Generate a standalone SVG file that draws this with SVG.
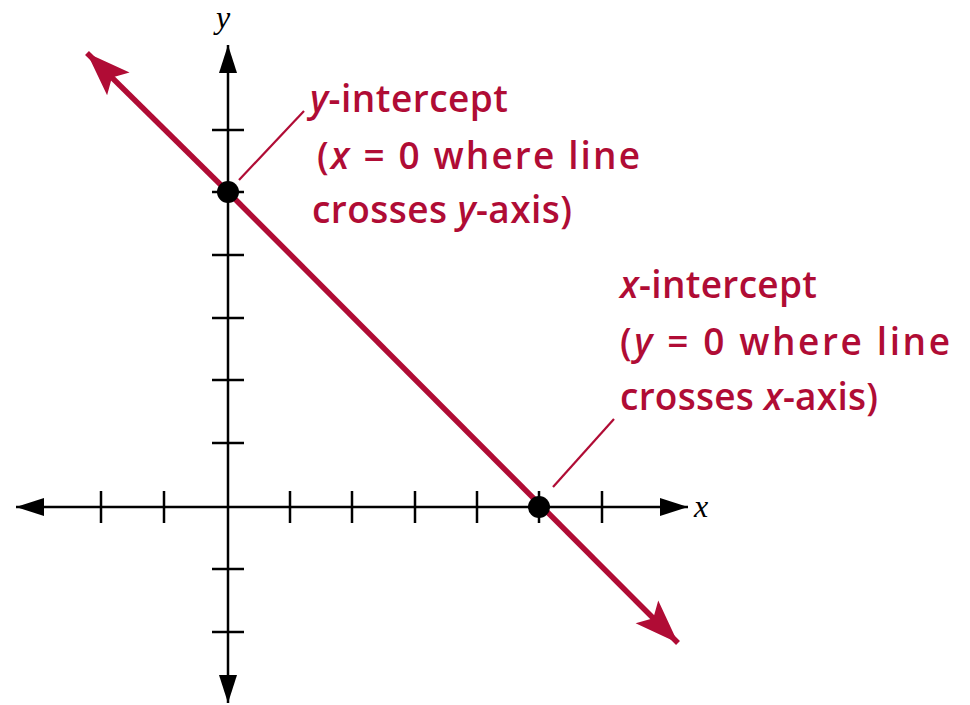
<svg xmlns="http://www.w3.org/2000/svg" width="970" height="705" viewBox="0 0 970 705">
<style>
.ax{stroke:#000;stroke-width:2.5;fill:none}
.tk{stroke:#000;stroke-width:2.5}
.ln{stroke:#B00C35;stroke-width:5.5;fill:none}
.ld{stroke:#B00C35;stroke-width:2.2}
.lbl{font-family:"Open Sans",sans-serif;font-size:37px;font-weight:600;fill:#B00C35}
.ax-l{font-family:"Liberation Serif",serif;font-style:italic;font-size:32px;fill:#000}
</style>
<defs>
<marker id="ah" markerUnits="userSpaceOnUse" markerWidth="30" markerHeight="20" refX="28" refY="10" orient="auto">
<path d="M0,1 L28,10 L0,19 Z" fill="#000"/>
</marker>
<marker id="rh" markerUnits="userSpaceOnUse" markerWidth="48" markerHeight="36" refX="44" refY="18" orient="auto">
<path d="M0,2 L44,18 L0,34 L9,18 Z" fill="#B00C35"/>
</marker>
</defs>
<g id="axes">
<line class="ax" x1="228" y1="507" x2="16" y2="507" marker-end="url(#ah)"/>
<line class="ax" x1="228" y1="507" x2="688" y2="507" marker-end="url(#ah)"/>
<line class="ax" x1="228" y1="507" x2="228" y2="45" marker-end="url(#ah)"/>
<line class="ax" x1="228" y1="507" x2="228" y2="703" marker-end="url(#ah)"/>
<g class="tk">
<line x1="101" y1="491" x2="101" y2="523"/>
<line x1="164" y1="491" x2="164" y2="523"/>
<line x1="290" y1="491" x2="290" y2="523"/>
<line x1="352" y1="491" x2="352" y2="523"/>
<line x1="415" y1="491" x2="415" y2="523"/>
<line x1="477" y1="491" x2="477" y2="523"/>
<line x1="539" y1="491" x2="539" y2="523"/>
<line x1="602" y1="491" x2="602" y2="523"/>
<line x1="212" y1="130" x2="244" y2="130"/>
<line x1="212" y1="192" x2="244" y2="192"/>
<line x1="212" y1="255" x2="244" y2="255"/>
<line x1="212" y1="318" x2="244" y2="318"/>
<line x1="212" y1="380" x2="244" y2="380"/>
<line x1="212" y1="443" x2="244" y2="443"/>
<line x1="212" y1="569" x2="244" y2="569"/>
<line x1="212" y1="632" x2="244" y2="632"/>
</g>
<text class="ax-l" x="694" y="517">x</text>
<text class="ax-l" x="216" y="28">y</text>
</g>
<g id="line">
<line class="ln" x1="228" y1="192" x2="87" y2="53" marker-end="url(#rh)"/>
<line class="ln" x1="228" y1="192" x2="678" y2="643" marker-end="url(#rh)"/>
</g>
<g id="connectors">
<line class="ld" x1="239" y1="180" x2="304" y2="111"/>
<line class="ld" x1="553" y1="487" x2="614" y2="419"/>
</g>
<g id="y-intercept">
<circle cx="228" cy="192" r="11" fill="#000"/>
<text class="lbl" x="310" y="112" textLength="198" lengthAdjust="spacing"><tspan font-style="italic">y</tspan>-intercept</text>
<text class="lbl" x="317" y="169" textLength="323" lengthAdjust="spacing">(<tspan font-style="italic">x</tspan> = 0 where line</text>
<text class="lbl" x="312" y="223" textLength="260" lengthAdjust="spacing">crosses <tspan font-style="italic">y</tspan>-axis)</text>
</g>
<g id="x-intercept">
<circle cx="539" cy="507" r="11" fill="#000"/>
<text class="lbl" x="620" y="298" textLength="197" lengthAdjust="spacing"><tspan font-style="italic">x</tspan>-intercept</text>
<text class="lbl" x="620" y="355" textLength="330" lengthAdjust="spacing">(<tspan font-style="italic">y</tspan> = 0 where line</text>
<text class="lbl" x="620" y="410" textLength="258" lengthAdjust="spacing">crosses <tspan font-style="italic">x</tspan>-axis)</text>
</g>
</svg>
